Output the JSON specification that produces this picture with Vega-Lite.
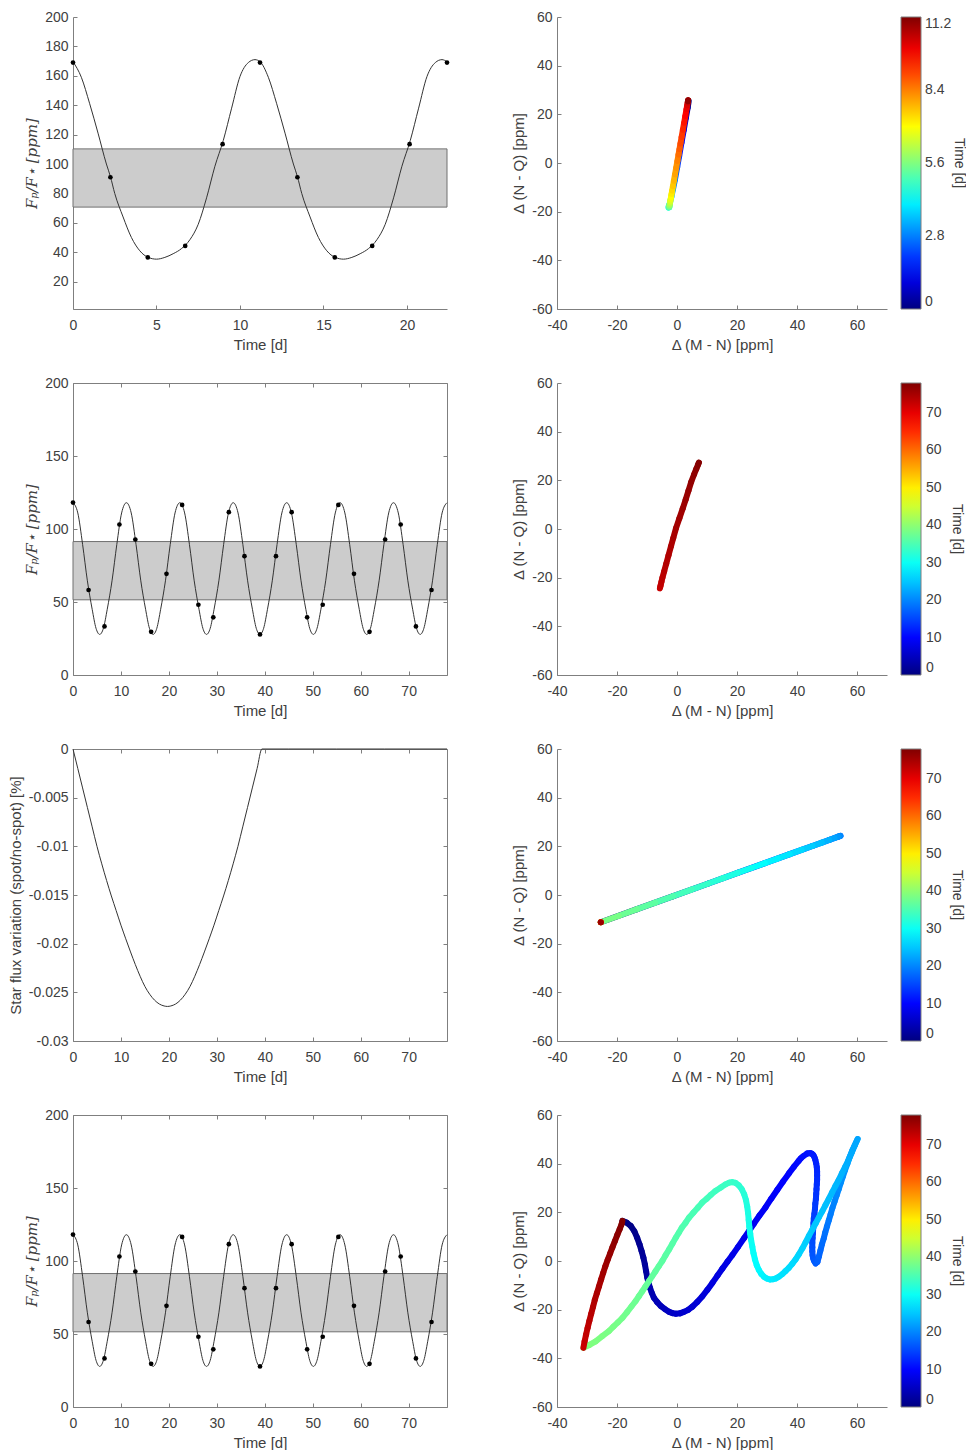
{
"$schema":"https://vega.github.io/schema/vega-lite/v6.json",
"background":"white",
"padding":{"left":8,"top":10,"right":0,"bottom":0},
"config":{
 "font":"Liberation Sans",
 "view":{"stroke":null},
 "axis":{"domainColor":"#7f7f7f","tickColor":"#7f7f7f","tickSize":-4,"tickWidth":1,"domainWidth":1,"labelFont":"Liberation Sans","labelFontSize":14,"labelColor":"#404040","titleFont":"Liberation Sans","titleFontSize":15,"titleFontWeight":"normal","titleColor":"#404040","grid":false,"labelFlush":false,"labelOverlap":false,"titlePadding":5},
 "legend":{"labelFont":"Liberation Sans","labelFontSize":14,"labelColor":"#404040","titleFont":"Liberation Sans","titleFontSize":14,"titleFontWeight":"normal","titleColor":"#404040"}
},
"datasets":{
 "band1":[{"x0":0,"x1":22.4,"y0":70.7,"y1":110.3}],
 "band2":[{"x0":0,"x1":78,"y0":51.5,"y1":91.4}],
 "l1":[{"t":0,"v":169.6},{"t":0.5,"v":159},{"t":1.0,"v":141},{"t":1.5,"v":121},{"t":2.0,"v":100},{"t":2.24,"v":91.5},{"t":2.5,"v":80},{"t":3.0,"v":64},{"t":3.5,"v":50},{"t":4.0,"v":41},{"t":4.5,"v":36.5},{"t":5.0,"v":35.3},{"t":5.5,"v":36.5},{"t":6.0,"v":39},{"t":6.5,"v":42.5},{"t":7.0,"v":48.5},{"t":7.5,"v":59},{"t":8.0,"v":77},{"t":8.5,"v":98.5},{"t":9.0,"v":116},{"t":9.5,"v":138},{"t":10.0,"v":159.5},{"t":10.5,"v":169},{"t":10.9,"v":171},{"t":11.2,"v":169.6},{"t":11.7,"v":159},{"t":12.2,"v":141},{"t":12.7,"v":121},{"t":13.2,"v":100},{"t":13.44,"v":91.5},{"t":13.7,"v":80},{"t":14.2,"v":64},{"t":14.7,"v":50},{"t":15.2,"v":41},{"t":15.7,"v":36.5},{"t":16.2,"v":35.3},{"t":16.7,"v":36.5},{"t":17.2,"v":39},{"t":17.7,"v":42.5},{"t":18.2,"v":48.5},{"t":18.7,"v":59},{"t":19.2,"v":77},{"t":19.7,"v":98.5},{"t":20.2,"v":116},{"t":20.7,"v":138},{"t":21.2,"v":159.5},{"t":21.7,"v":169},{"t":22.1,"v":171},{"t":22.4,"v":169.6}],
 "dots1":[{"t":0,"v":169},{"t":2.24,"v":91},{"t":4.48,"v":36.5},{"t":6.72,"v":44.3},{"t":8.96,"v":113.5},{"t":11.2,"v":169},{"t":13.44,"v":91},{"t":15.68,"v":36.5},{"t":17.92,"v":44.3},{"t":20.16,"v":113.5},{"t":22.4,"v":169}],
 "l2":[{"t":0,"v":118},{"t":1,"v":111},{"t":2,"v":89.5},{"t":3,"v":64.5},{"t":4,"v":45},{"t":4.8,"v":32},{"t":5.57,"v":27.8},{"t":6.34,"v":32},{"t":7.14,"v":45},{"t":8.14,"v":64.5},{"t":9.14,"v":89.5},{"t":10.14,"v":111},
  {"t":11.14,"v":118},{"t":12.14,"v":111},{"t":13.14,"v":89.5},{"t":14.14,"v":64.5},{"t":15.14,"v":45},{"t":15.94,"v":32},{"t":16.71,"v":27.8},{"t":17.48,"v":32},{"t":18.28,"v":45},{"t":19.28,"v":64.5},{"t":20.28,"v":89.5},{"t":21.28,"v":111},
  {"t":22.28,"v":118},{"t":23.28,"v":111},{"t":24.28,"v":89.5},{"t":25.28,"v":64.5},{"t":26.28,"v":45},{"t":27.08,"v":32},{"t":27.85,"v":27.8},{"t":28.62,"v":32},{"t":29.42,"v":45},{"t":30.42,"v":64.5},{"t":31.42,"v":89.5},{"t":32.42,"v":111},
  {"t":33.42,"v":118},{"t":34.42,"v":111},{"t":35.42,"v":89.5},{"t":36.42,"v":64.5},{"t":37.42,"v":45},{"t":38.22,"v":32},{"t":38.99,"v":27.8},{"t":39.76,"v":32},{"t":40.56,"v":45},{"t":41.56,"v":64.5},{"t":42.56,"v":89.5},{"t":43.56,"v":111},
  {"t":44.56,"v":118},{"t":45.56,"v":111},{"t":46.56,"v":89.5},{"t":47.56,"v":64.5},{"t":48.56,"v":45},{"t":49.36,"v":32},{"t":50.13,"v":27.8},{"t":50.9,"v":32},{"t":51.7,"v":45},{"t":52.7,"v":64.5},{"t":53.7,"v":89.5},{"t":54.7,"v":111},
  {"t":55.7,"v":118},{"t":56.7,"v":111},{"t":57.7,"v":89.5},{"t":58.7,"v":64.5},{"t":59.7,"v":45},{"t":60.5,"v":32},{"t":61.27,"v":27.8},{"t":62.04,"v":32},{"t":62.84,"v":45},{"t":63.84,"v":64.5},{"t":64.84,"v":89.5},{"t":65.84,"v":111},
  {"t":66.84,"v":118},{"t":67.84,"v":111},{"t":68.84,"v":89.5},{"t":69.84,"v":64.5},{"t":70.84,"v":45},{"t":71.64,"v":32},{"t":72.41,"v":27.8},{"t":73.18,"v":32},{"t":73.98,"v":45},{"t":74.98,"v":64.5},{"t":75.98,"v":89.5},{"t":76.98,"v":111},{"t":78,"v":118}],
 "dots2":[{"t":0,"v":118.1},{"t":3.25,"v":58.2},{"t":6.57,"v":33.3},{"t":9.68,"v":103.1},{"t":13.0,"v":92.8},{"t":16.3,"v":29.6},{"t":19.5,"v":69.3},{"t":22.76,"v":116.5},{"t":26.15,"v":48.1},{"t":29.26,"v":39.5},{"t":32.5,"v":111.5},{"t":35.76,"v":81.4},{"t":39.0,"v":27.8},{"t":42.33,"v":81.4},{"t":45.6,"v":111.5},{"t":48.83,"v":39.5},{"t":52.08,"v":48.1},{"t":55.34,"v":116.5},{"t":58.6,"v":69.3},{"t":61.84,"v":29.6},{"t":65.1,"v":92.8},{"t":68.34,"v":103.1},{"t":71.52,"v":33.3},{"t":74.77,"v":58.2}],
 "l3":[{"t":0,"v":0},{"t":1,"v":-0.002},{"t":2,"v":-0.004},{"t":3,"v":-0.006},{"t":4,"v":-0.008},{"t":5,"v":-0.01},{"t":6,"v":-0.0118},{"t":7,"v":-0.0135},{"t":8,"v":-0.0151},{"t":9,"v":-0.0166},{"t":10,"v":-0.0181},{"t":11,"v":-0.0195},{"t":12,"v":-0.02085},{"t":13,"v":-0.02215},{"t":14,"v":-0.02335},{"t":15,"v":-0.0244},{"t":16,"v":-0.0252},{"t":17,"v":-0.0258},{"t":18,"v":-0.0262},{"t":19,"v":-0.0264},{"t":19.7,"v":-0.02645},{"t":20.4,"v":-0.0264},{"t":21.4,"v":-0.0262},{"t":22.4,"v":-0.0258},{"t":23.4,"v":-0.0252},{"t":24.4,"v":-0.0244},{"t":25.4,"v":-0.02335},{"t":26.4,"v":-0.02215},{"t":27.4,"v":-0.02085},{"t":28.4,"v":-0.0195},{"t":29.4,"v":-0.0181},{"t":30.4,"v":-0.0166},{"t":31.4,"v":-0.0151},{"t":32.4,"v":-0.0135},{"t":33.4,"v":-0.0118},{"t":34.4,"v":-0.01},{"t":35.4,"v":-0.008},{"t":36.4,"v":-0.006},{"t":37.4,"v":-0.004},{"t":38.4,"v":-0.002},{"t":39.4,"v":0},{"t":45,"v":0},{"t":55,"v":0},{"t":65,"v":0},{"t":78,"v":0}],
 "r1":[{"t":0,"x":3.9,"y":25.4},{"t":0.4,"x":3.56,"y":22.7},{"t":0.8,"x":2.95,"y":18.5},{"t":1.2,"x":2.24,"y":13.5},{"t":1.6,"x":1.49,"y":8.3},{"t":2.0,"x":0.71,"y":2.8},{"t":2.4,"x":0.06,"y":-1.7},{"t":2.8,"x":-0.67,"y":-6.8},{"t":3.2,"x":-1.33,"y":-10.7},{"t":3.6,"x":-1.9,"y":-14.0},{"t":4.0,"x":-2.34,"y":-16.4},{"t":4.4,"x":-2.7,"y":-17.5},{"t":4.8,"x":-2.8,"y":-18.3},
  {"t":5.0,"x":-2.6,"y":-18.2},{"t":5.2,"x":-2.59,"y":-18.11},{"t":5.4,"x":-2.56,"y":-17.89},{"t":5.6,"x":-2.52,"y":-17.67},{"t":5.8,"x":-2.49,"y":-17.41},{"t":6.0,"x":-2.43,"y":-17.01},{"t":6.2,"x":-2.36,"y":-16.53},{"t":6.4,"x":-2.3,"y":-16.09},{"t":6.6,"x":-2.22,"y":-15.56},{"t":6.8,"x":-2.11,"y":-14.81},{"t":7.0,"x":-1.99,"y":-13.93},{"t":7.2,"x":-1.81,"y":-12.7},{"t":7.4,"x":-1.62,"y":-11.34},{"t":7.6,"x":-1.36,"y":-9.53},{"t":7.8,"x":-1.04,"y":-7.29},{"t":8.0,"x":-0.67,"y":-4.69},{"t":8.2,"x":-0.27,"y":-1.92},{"t":8.4,"x":0.13,"y":0.85},{"t":8.6,"x":0.5,"y":3.45},{"t":8.8,"x":0.82,"y":5.69},{"t":9.0,"x":1.15,"y":7.98},{"t":9.2,"x":1.54,"y":10.71},{"t":9.4,"x":1.96,"y":13.66},{"t":9.6,"x":2.38,"y":16.56},{"t":9.8,"x":2.77,"y":19.33},{"t":10.0,"x":3.16,"y":22.06},{"t":10.2,"x":3.4,"y":23.69},{"t":10.4,"x":3.56,"y":24.83},{"t":10.6,"x":3.66,"y":25.49},{"t":10.8,"x":3.7,"y":25.8},{"t":11.0,"x":3.68,"y":25.67},{"t":11.2,"x":3.64,"y":25.36}],
 "r2":[{"t":72.41,"x":-5.7,"y":-24.4},{"t":72.69,"x":-5.62,"y":-24.0},{"t":72.97,"x":-5.47,"y":-23.2},{"t":73.25,"x":-5.18,"y":-21.7},{"t":73.53,"x":-4.85,"y":-20.0},{"t":73.81,"x":-4.27,"y":-17.4},{"t":74.09,"x":-3.59,"y":-14.3},{"t":74.37,"x":-2.82,"y":-10.8},{"t":74.65,"x":-2.0,"y":-7.1},{"t":74.93,"x":-1.24,"y":-3.7},{"t":75.21,"x":-0.32,"y":0.36},{"t":75.49,"x":0.8,"y":4.4},{"t":75.77,"x":1.91,"y":8.4},{"t":76.05,"x":2.89,"y":12.1},{"t":76.33,"x":3.83,"y":15.8},{"t":76.61,"x":4.72,"y":19.3},{"t":76.89,"x":5.69,"y":22.4},{"t":77.17,"x":6.44,"y":24.7},{"t":77.45,"x":7.0,"y":26.4},{"t":77.73,"x":7.27,"y":27.2},{"t":78.0,"x":7.3,"y":27.3}],
 "r3":[{"t":0,"x":-25.4,"y":-11.2},{"t":2,"x":-13.32,"y":-5.83},{"t":4,"x":-1.23,"y":-0.46},{"t":6,"x":10.24,"y":4.64},{"t":8,"x":20.21,"y":9.07},{"t":10,"x":29.28,"y":13.09},{"t":12,"x":37.59,"y":16.78},{"t":14,"x":45.14,"y":20.14},{"t":16,"x":50.72,"y":22.62},{"t":18,"x":53.74,"y":23.96},
  {"t":19.7,"x":54.5,"y":24.3},{"t":20.4,"x":54.35,"y":24.23},{"t":21.4,"x":53.74,"y":23.96},{"t":22.4,"x":52.53,"y":23.43},{"t":23.4,"x":50.72,"y":22.62},{"t":24.4,"x":48.31,"y":21.55},{"t":25.4,"x":45.14,"y":20.14},{"t":26.4,"x":41.51,"y":18.53},{"t":27.4,"x":37.59,"y":16.78},{"t":28.4,"x":33.5,"y":14.97},{"t":29.4,"x":29.28,"y":13.09},{"t":30.4,"x":24.75,"y":11.08},{"t":31.4,"x":20.21,"y":9.07},{"t":32.4,"x":15.38,"y":6.92},{"t":33.4,"x":10.24,"y":4.64},{"t":34.4,"x":4.81,"y":2.22},{"t":35.4,"x":-1.23,"y":-0.46},{"t":36.4,"x":-7.28,"y":-3.15},{"t":37.4,"x":-13.32,"y":-5.83},{"t":38.4,"x":-19.36,"y":-8.52},{"t":39.4,"x":-25.4,"y":-11.2},
  {"t":50,"x":-25.4,"y":-11.2},{"t":60,"x":-25.4,"y":-11.2},{"t":70,"x":-25.4,"y":-11.2},{"t":76,"x":-25.4,"y":-11.2},{"t":78,"x":-25.4,"y":-11.2}],
 "r4":[{"t":0,"x":-18.2,"y":16.5},{"t":0.28,"x":-16.8,"y":15.8},{"t":0.56,"x":-15.4,"y":14.4},{"t":0.84,"x":-14.2,"y":12.2},{"t":1.12,"x":-13.3,"y":9.6},{"t":1.4,"x":-12.5,"y":6.9},{"t":1.68,"x":-11.8,"y":4.1},{"t":1.96,"x":-11.2,"y":1.4},{"t":2.24,"x":-10.7,"y":-1.4},{"t":2.52,"x":-10.3,"y":-4.2},{"t":2.8,"x":-9.9,"y":-6.9},{"t":3.08,"x":-9.5,"y":-9.0},{"t":3.36,"x":-9.0,"y":-11.0},{"t":3.64,"x":-8.4,"y":-13.1},{"t":3.92,"x":-7.7,"y":-15.1},{"t":4.2,"x":-6.6,"y":-16.9},{"t":4.48,"x":-5.4,"y":-18.5},{"t":4.76,"x":-4.0,"y":-19.8},{"t":5.04,"x":-2.6,"y":-20.9},{"t":5.32,"x":-1.5,"y":-21.4},
  {"t":5.6,"x":-0.4,"y":-21.7},{"t":5.8,"x":1.0,"y":-21.5},{"t":6.0,"x":2.3,"y":-20.9},{"t":6.2,"x":3.7,"y":-20.1},{"t":6.4,"x":5.1,"y":-18.8},{"t":6.6,"x":6.7,"y":-16.9},{"t":6.8,"x":8.4,"y":-14.6},{"t":7.0,"x":10.1,"y":-11.9},{"t":7.2,"x":11.8,"y":-9.0},{"t":7.4,"x":13.5,"y":-6.0},{"t":7.6,"x":15.1,"y":-3.2},{"t":7.8,"x":16.8,"y":-0.3},{"t":8.0,"x":18.4,"y":2.4},{"t":8.2,"x":20.3,"y":5.7},{"t":8.4,"x":22.3,"y":9.3},{"t":8.6,"x":24.0,"y":12.3},{"t":8.8,"x":25.6,"y":15.3},{"t":9.0,"x":27.5,"y":18.7},{"t":9.2,"x":29.5,"y":22.0},{"t":9.4,"x":31.4,"y":25.6},{"t":9.6,"x":33.4,"y":29.2},{"t":9.8,"x":35.3,"y":32.6},{"t":10.0,"x":37.3,"y":36.0},{"t":10.2,"x":39.0,"y":38.8},{"t":10.4,"x":40.6,"y":41.2},{"t":10.6,"x":41.3,"y":42.2},{"t":10.8,"x":42.0,"y":43.0},{"t":11.0,"x":43.4,"y":44.2},
  {"t":11.2,"x":44.4,"y":44.3},{"t":11.4,"x":44.9,"y":44.1},{"t":11.6,"x":45.4,"y":43.6},{"t":11.8,"x":45.8,"y":42.7},{"t":12.0,"x":46.1,"y":41.6},{"t":12.2,"x":46.4,"y":40.1},{"t":12.4,"x":46.6,"y":38.5},{"t":12.6,"x":46.7,"y":36.8},{"t":12.8,"x":46.7,"y":35.2},{"t":13.0,"x":46.7,"y":33.4},{"t":13.2,"x":46.6,"y":31.5},{"t":13.4,"x":46.5,"y":29.5},{"t":13.6,"x":46.4,"y":27.5},{"t":13.8,"x":46.3,"y":25.5},{"t":14.0,"x":46.1,"y":23.5},{"t":14.2,"x":46.0,"y":21.5},{"t":14.4,"x":45.8,"y":19.5},{"t":14.6,"x":45.6,"y":17.5},{"t":14.8,"x":45.5,"y":15.5},{"t":15.0,"x":45.4,"y":13.4},{"t":15.2,"x":45.3,"y":11.3},{"t":15.4,"x":45.2,"y":9.4},{"t":15.6,"x":45.1,"y":7.5},{"t":15.8,"x":45.1,"y":5.7},{"t":16.0,"x":45.1,"y":4.0},{"t":16.2,"x":45.2,"y":2.4},{"t":16.4,"x":45.4,"y":1.0},{"t":16.6,"x":45.7,"y":0.0},
  {"t":16.8,"x":46.2,"y":-1.0},{"t":17.08,"x":46.8,"y":-0.4},{"t":17.36,"x":47.3,"y":1.8},{"t":17.64,"x":47.8,"y":4.3},{"t":17.92,"x":48.3,"y":6.8},{"t":18.2,"x":48.9,"y":9.2},{"t":18.48,"x":49.4,"y":11.7},{"t":18.76,"x":50.0,"y":14.2},{"t":19.04,"x":50.6,"y":16.7},{"t":19.32,"x":51.2,"y":19.2},{"t":19.6,"x":51.8,"y":21.8},{"t":19.88,"x":52.5,"y":24.3},{"t":20.16,"x":53.2,"y":26.9},{"t":20.44,"x":53.9,"y":29.5},{"t":20.72,"x":54.6,"y":32.1},{"t":21.0,"x":55.3,"y":34.7},{"t":21.28,"x":56.0,"y":37.3},{"t":21.56,"x":56.8,"y":40.0},{"t":21.84,"x":57.6,"y":42.8},{"t":22.12,"x":58.5,"y":45.6},
  {"t":22.4,"x":60.2,"y":50.1},{"t":22.6,"x":59.2,"y":47.3},{"t":22.8,"x":58.2,"y":44.5},{"t":23.0,"x":57.2,"y":41.6},{"t":23.2,"x":56.1,"y":38.8},{"t":23.4,"x":55.0,"y":36.1},{"t":23.6,"x":53.9,"y":33.3},{"t":23.8,"x":52.8,"y":30.8},{"t":24.0,"x":51.7,"y":28.2},{"t":24.2,"x":50.6,"y":25.5},{"t":24.4,"x":49.5,"y":23.0},{"t":24.6,"x":48.4,"y":20.4},{"t":24.8,"x":47.3,"y":17.9},{"t":25.0,"x":46.2,"y":15.4},{"t":25.2,"x":45.1,"y":12.9},{"t":25.4,"x":44.0,"y":10.4},{"t":25.6,"x":42.9,"y":7.8},{"t":25.8,"x":41.8,"y":5.2},{"t":26.0,"x":40.6,"y":2.7},{"t":26.2,"x":39.5,"y":0.6},{"t":26.4,"x":38.4,"y":-1.2},{"t":26.6,"x":37.3,"y":-2.8},{"t":26.8,"x":36.2,"y":-4.1},{"t":27.0,"x":35.1,"y":-5.4},{"t":27.2,"x":34.0,"y":-6.4},{"t":27.4,"x":33.0,"y":-7.1},{"t":27.6,"x":32.0,"y":-7.5},{"t":27.8,"x":31.0,"y":-7.6},
  {"t":28.0,"x":30.0,"y":-7.2},{"t":28.28,"x":29.0,"y":-6.5},{"t":28.56,"x":28.1,"y":-5.3},{"t":28.84,"x":27.3,"y":-3.7},{"t":29.12,"x":26.6,"y":-1.8},{"t":29.4,"x":26.0,"y":0.6},{"t":29.68,"x":25.5,"y":3.2},{"t":29.96,"x":25.1,"y":5.9},{"t":30.24,"x":24.7,"y":8.6},{"t":30.52,"x":24.4,"y":11.3},{"t":30.8,"x":24.1,"y":14.1},{"t":31.08,"x":23.9,"y":16.9},{"t":31.36,"x":23.7,"y":19.7},{"t":31.64,"x":23.4,"y":22.4},{"t":31.92,"x":23.0,"y":25.0},{"t":32.2,"x":22.4,"y":27.4},{"t":32.48,"x":21.6,"y":29.5},{"t":32.76,"x":20.6,"y":31.1},{"t":33.04,"x":19.5,"y":32.1},{"t":33.32,"x":18.5,"y":32.4},
  {"t":33.6,"x":17.4,"y":32.2},{"t":33.76,"x":16.2,"y":31.5},{"t":33.92,"x":14.6,"y":30.2},{"t":34.08,"x":12.8,"y":28.8},{"t":34.24,"x":11.3,"y":27.2},{"t":34.4,"x":9.9,"y":25.6},{"t":34.56,"x":8.4,"y":24.0},{"t":34.72,"x":7.0,"y":22.0},{"t":34.88,"x":5.5,"y":19.9},{"t":35.04,"x":4.0,"y":17.8},{"t":35.2,"x":2.8,"y":15.6},{"t":35.36,"x":1.6,"y":13.7},{"t":35.52,"x":0.6,"y":11.6},{"t":35.68,"x":-0.4,"y":9.6},{"t":35.84,"x":-1.5,"y":7.2},{"t":36.0,"x":-2.6,"y":4.8},{"t":36.16,"x":-3.8,"y":2.4},{"t":36.32,"x":-4.9,"y":0.0},{"t":36.48,"x":-6.1,"y":-2.2},{"t":36.64,"x":-7.2,"y":-4.3},{"t":36.8,"x":-8.3,"y":-6.3},{"t":36.96,"x":-9.3,"y":-8.2},{"t":37.12,"x":-10.5,"y":-10.4},{"t":37.28,"x":-11.6,"y":-12.5},{"t":37.44,"x":-12.7,"y":-14.5},{"t":37.6,"x":-13.8,"y":-16.5},{"t":37.76,"x":-15.2,"y":-18.7},{"t":37.92,"x":-16.7,"y":-21.1},{"t":38.08,"x":-18.2,"y":-23.4},{"t":38.24,"x":-19.7,"y":-25.2},{"t":38.4,"x":-21.2,"y":-27.0},{"t":38.56,"x":-22.7,"y":-28.8},{"t":38.72,"x":-24.9,"y":-30.9},{"t":38.88,"x":-27.1,"y":-33.0},{"t":39.04,"x":-29.2,"y":-34.5},
  {"t":72.41,"x":-31.2,"y":-35.7},{"t":72.69,"x":-30.8,"y":-33.0},{"t":72.97,"x":-30.3,"y":-30.2},{"t":73.25,"x":-29.8,"y":-27.5},{"t":73.53,"x":-29.2,"y":-24.6},{"t":73.81,"x":-28.6,"y":-21.7},{"t":74.09,"x":-28.0,"y":-18.9},{"t":74.37,"x":-27.4,"y":-16.0},{"t":74.65,"x":-26.7,"y":-13.2},{"t":74.93,"x":-26.0,"y":-10.4},{"t":75.21,"x":-25.3,"y":-7.6},{"t":75.49,"x":-24.6,"y":-4.9},{"t":75.77,"x":-23.9,"y":-2.2},{"t":76.05,"x":-23.1,"y":0.5},{"t":76.33,"x":-22.3,"y":3.1},{"t":76.61,"x":-21.5,"y":5.7},{"t":76.89,"x":-20.7,"y":8.2},{"t":77.17,"x":-19.9,"y":10.7},{"t":77.45,"x":-19.1,"y":13.1},{"t":77.73,"x":-18.5,"y":15.0},{"t":78.0,"x":-18.2,"y":16.5}]
},
"columns":2,
"spacing":{"row":24,"column":61},
"align":"each",
"resolve":{"scale":{"x":"independent","y":"independent","color":"independent"},"legend":{"color":"independent"}},
"concat":[
 {"width":374,"height":292,
  "resolve":{"axis":{"x":"independent","y":"independent"}},
  "layer":[
   {"data":{"name":"band1"},"mark":{"type":"rect","fill":"#cccccc","stroke":"#707070","strokeWidth":1},
    "encoding":{"x":{"field":"x0","type":"quantitative","scale":{"domain":[0,22.4],"nice":false,"zero":false},"axis":null},
     "x2":{"field":"x1"},
     "y":{"field":"y0","type":"quantitative","scale":{"domain":[1.4,200],"nice":false,"zero":false},"axis":null},
     "y2":{"field":"y1"}}},
   {"data":{"name":"l1"},"mark":{"type":"line","color":"#333333","strokeWidth":1,"interpolate":"monotone"},
    "encoding":{"x":{"field":"t","type":"quantitative","title":"Time [d]","scale":{"domain":[0,22.4],"nice":false,"zero":false},"axis":{"values":[0,5,10,15,20],"labelExpr":"toString(datum.value)","labelPadding":13}},
     "y":{"field":"v","type":"quantitative","title":"Fₚ/F⋆ [ppm]","scale":{"domain":[1.4,200],"nice":false,"zero":false},"axis":{"values":[20,40,60,80,100,120,140,160,180,200],"tickCount":10,"labelExpr":"toString(datum.value)","labelPadding":9,"labelOverlap":false,"labelSeparation":0,"titleFont":"DejaVu Serif","titleFontStyle":"italic"}}}},
   {"data":{"name":"dots1"},"mark":{"type":"point","filled":true,"color":"#000000","size":22,"opacity":1},
    "encoding":{"x":{"field":"t","type":"quantitative","scale":{"domain":[0,22.4],"nice":false,"zero":false},"axis":null},
     "y":{"field":"v","type":"quantitative","scale":{"domain":[1.4,200],"nice":false,"zero":false},"axis":null}}}
  ]},
 {"width":330,"height":292,"data":{"name":"r1"},
  "transform":[{"window":[{"op":"lead","field":"x","as":"x2"},{"op":"lead","field":"y","as":"y2"}],"sort":[{"field":"t"}]},{"filter":"isValid(datum.x2)"}],
  "mark":{"type":"rule","strokeWidth":6,"strokeCap":"round"},
  "encoding":{
   "x":{"field":"x","type":"quantitative","scale":{"domain":[-40,70],"nice":false,"zero":false},"axis":{"values":[-40,-20,0,20,40,60],"title":"Δ (M - N) [ppm]","labelExpr":"toString(datum.value)","labelPadding":13}},
   "y":{"field":"y","type":"quantitative","scale":{"domain":[-60,60],"nice":false,"zero":false},"axis":{"values":[-60,-40,-20,0,20,40,60],"title":"Δ (N - Q) [ppm]","labelExpr":"toString(datum.value)","labelPadding":9}},
   "x2":{"field":"x2"},"y2":{"field":"y2"},
   "color":{"field":"t","type":"quantitative","scale":{"domain":[0,1.4,4.2,7,9.8,11.2],"range":["#000080","#0000ff","#00ffff","#ffff00","#ff0000","#800000"],"interpolate":"rgb"},
    "legend":{"type":"gradient","title":"Time [d]","values":[0,2.8,5.6,8.4,11.2],"labelExpr":"toString(datum.value)","gradientLength":292,"gradientThickness":20,"offset":14,"titleOrient":"right","titleAnchor":"middle","titlePadding":1,"gradientStrokeColor":"#7f7f7f","gradientStrokeWidth":1,"labelOffset":4,"labelBaseline":"middle","direction":"vertical"}}}},
 {"width":374,"height":292,
  "resolve":{"axis":{"x":"independent","y":"independent"}},
  "layer":[
   {"data":{"name":"band2"},"mark":{"type":"rect","fill":"#cccccc","stroke":"#707070","strokeWidth":1},
    "encoding":{"x":{"field":"x0","type":"quantitative","scale":{"domain":[0,78],"nice":false,"zero":false},"axis":{"orient":"top","values":[0,10,20,30,40,50,60,70],"labels":false,"title":null}},
     "x2":{"field":"x1"},
     "y":{"field":"y0","type":"quantitative","scale":{"domain":[0,200],"nice":false,"zero":false},"axis":{"orient":"right","values":[0,50,100,150,200],"labels":false,"title":null}},
     "y2":{"field":"y1"}}},
   {"data":{"name":"l2"},"mark":{"type":"line","color":"#333333","strokeWidth":1,"interpolate":"monotone"},
    "encoding":{"x":{"field":"t","type":"quantitative","title":"Time [d]","scale":{"domain":[0,78],"nice":false,"zero":false},"axis":{"values":[0,10,20,30,40,50,60,70],"labelExpr":"toString(datum.value)","labelPadding":13}},
     "y":{"field":"v","type":"quantitative","title":"Fₚ/F⋆ [ppm]","scale":{"domain":[0,200],"nice":false,"zero":false},"axis":{"values":[0,50,100,150,200],"labelExpr":"toString(datum.value)","labelPadding":9,"titleFont":"DejaVu Serif","titleFontStyle":"italic"}}}},
   {"data":{"name":"dots2"},"mark":{"type":"point","filled":true,"color":"#000000","size":22,"opacity":1},
    "encoding":{"x":{"field":"t","type":"quantitative","scale":{"domain":[0,78],"nice":false,"zero":false},"axis":null},
     "y":{"field":"v","type":"quantitative","scale":{"domain":[0,200],"nice":false,"zero":false},"axis":null}}}
  ]},
 {"width":330,"height":292,"data":{"name":"r2"},
  "transform":[{"window":[{"op":"lead","field":"x","as":"x2"},{"op":"lead","field":"y","as":"y2"}],"sort":[{"field":"t"}]},{"filter":"isValid(datum.x2)"}],
  "mark":{"type":"rule","strokeWidth":6,"strokeCap":"round"},
  "encoding":{
   "x":{"field":"x","type":"quantitative","scale":{"domain":[-40,70],"nice":false,"zero":false},"axis":{"values":[-40,-20,0,20,40,60],"title":"Δ (M - N) [ppm]","labelExpr":"toString(datum.value)","labelPadding":13}},
   "y":{"field":"y","type":"quantitative","scale":{"domain":[-60,60],"nice":false,"zero":false},"axis":{"values":[-60,-40,-20,0,20,40,60],"title":"Δ (N - Q) [ppm]","labelExpr":"toString(datum.value)","labelPadding":9}},
   "x2":{"field":"x2"},"y2":{"field":"y2"},
   "color":{"field":"t","type":"quantitative","scale":{"domain":[0,9.75,29.25,48.75,68.25,78],"range":["#000080","#0000ff","#00ffff","#ffff00","#ff0000","#800000"],"interpolate":"rgb"},
    "legend":{"type":"gradient","title":"Time [d]","values":[0,10,20,30,40,50,60,70],"labelExpr":"toString(datum.value)","gradientLength":292,"gradientThickness":20,"offset":14,"titleOrient":"right","titleAnchor":"middle","titlePadding":8,"gradientStrokeColor":"#7f7f7f","gradientStrokeWidth":1,"labelOffset":5,"labelBaseline":"middle","direction":"vertical"}}}},
 {"width":374,"height":292,
  "resolve":{"axis":{"x":"independent","y":"independent"}},
  "layer":[
   {"data":{"name":"l3"},"mark":{"type":"line","opacity":0},
    "encoding":{"x":{"field":"t","type":"quantitative","scale":{"domain":[0,78],"nice":false,"zero":false},"axis":{"orient":"top","values":[0,10,20,30,40,50,60,70],"labels":false,"title":null}},
     "y":{"field":"v","type":"quantitative","scale":{"domain":[-0.03,0],"nice":false,"zero":false},"axis":{"orient":"right","values":[-0.03,-0.025,-0.02,-0.015,-0.01,-0.005,0],"labels":false,"title":null}}}},
   {"data":{"name":"l3"},"mark":{"type":"line","color":"#333333","strokeWidth":1,"interpolate":"monotone"},
    "encoding":{"x":{"field":"t","type":"quantitative","title":"Time [d]","scale":{"domain":[0,78],"nice":false,"zero":false},"axis":{"values":[0,10,20,30,40,50,60,70],"labelExpr":"toString(datum.value)","labelPadding":13}},
     "y":{"field":"v","type":"quantitative","title":"Star flux variation (spot/no-spot) [%]","scale":{"domain":[-0.03,0],"nice":false,"zero":false},"axis":{"values":[-0.03,-0.025,-0.02,-0.015,-0.01,-0.005,0],"labelExpr":"toString(datum.value)","labelPadding":9}}}}
  ]},
 {"width":330,"height":292,"data":{"name":"r3"},
  "transform":[{"window":[{"op":"lead","field":"x","as":"x2"},{"op":"lead","field":"y","as":"y2"}],"sort":[{"field":"t"}]},{"filter":"isValid(datum.x2)"}],
  "mark":{"type":"rule","strokeWidth":6,"strokeCap":"round"},
  "encoding":{
   "x":{"field":"x","type":"quantitative","scale":{"domain":[-40,70],"nice":false,"zero":false},"axis":{"values":[-40,-20,0,20,40,60],"title":"Δ (M - N) [ppm]","labelExpr":"toString(datum.value)","labelPadding":13}},
   "y":{"field":"y","type":"quantitative","scale":{"domain":[-60,60],"nice":false,"zero":false},"axis":{"values":[-60,-40,-20,0,20,40,60],"title":"Δ (N - Q) [ppm]","labelExpr":"toString(datum.value)","labelPadding":9}},
   "x2":{"field":"x2"},"y2":{"field":"y2"},
   "color":{"field":"t","type":"quantitative","scale":{"domain":[0,9.75,29.25,48.75,68.25,78],"range":["#000080","#0000ff","#00ffff","#ffff00","#ff0000","#800000"],"interpolate":"rgb"},
    "legend":{"type":"gradient","title":"Time [d]","values":[0,10,20,30,40,50,60,70],"labelExpr":"toString(datum.value)","gradientLength":292,"gradientThickness":20,"offset":14,"titleOrient":"right","titleAnchor":"middle","titlePadding":8,"gradientStrokeColor":"#7f7f7f","gradientStrokeWidth":1,"labelOffset":5,"labelBaseline":"middle","direction":"vertical"}}}},
 {"width":374,"height":292,
  "resolve":{"axis":{"x":"independent","y":"independent"}},
  "layer":[
   {"data":{"name":"band2"},"mark":{"type":"rect","fill":"#cccccc","stroke":"#707070","strokeWidth":1},
    "encoding":{"x":{"field":"x0","type":"quantitative","scale":{"domain":[0,78],"nice":false,"zero":false},"axis":{"orient":"top","values":[0,10,20,30,40,50,60,70],"labels":false,"title":null}},
     "x2":{"field":"x1"},
     "y":{"field":"y0","type":"quantitative","scale":{"domain":[0,200],"nice":false,"zero":false},"axis":{"orient":"right","values":[0,50,100,150,200],"labels":false,"title":null}},
     "y2":{"field":"y1"}}},
   {"data":{"name":"l2"},"mark":{"type":"line","color":"#333333","strokeWidth":1,"interpolate":"monotone"},
    "encoding":{"x":{"field":"t","type":"quantitative","title":"Time [d]","scale":{"domain":[0,78],"nice":false,"zero":false},"axis":{"values":[0,10,20,30,40,50,60,70],"labelExpr":"toString(datum.value)","labelPadding":13}},
     "y":{"field":"v","type":"quantitative","title":"Fₚ/F⋆ [ppm]","scale":{"domain":[0,200],"nice":false,"zero":false},"axis":{"values":[0,50,100,150,200],"labelExpr":"toString(datum.value)","labelPadding":9,"titleFont":"DejaVu Serif","titleFontStyle":"italic"}}}},
   {"data":{"name":"dots2"},"mark":{"type":"point","filled":true,"color":"#000000","size":22,"opacity":1},
    "encoding":{"x":{"field":"t","type":"quantitative","scale":{"domain":[0,78],"nice":false,"zero":false},"axis":null},
     "y":{"field":"v","type":"quantitative","scale":{"domain":[0,200],"nice":false,"zero":false},"axis":null}}}
  ]},
 {"width":330,"height":292,"data":{"name":"r4"},
  "transform":[{"window":[{"op":"lead","field":"x","as":"x2"},{"op":"lead","field":"y","as":"y2"}],"sort":[{"field":"t"}]},{"filter":"isValid(datum.x2)"}],
  "mark":{"type":"rule","strokeWidth":6,"strokeCap":"round"},
  "encoding":{
   "x":{"field":"x","type":"quantitative","scale":{"domain":[-40,70],"nice":false,"zero":false},"axis":{"values":[-40,-20,0,20,40,60],"title":"Δ (M - N) [ppm]","labelExpr":"toString(datum.value)","labelPadding":13}},
   "y":{"field":"y","type":"quantitative","scale":{"domain":[-60,60],"nice":false,"zero":false},"axis":{"values":[-60,-40,-20,0,20,40,60],"title":"Δ (N - Q) [ppm]","labelExpr":"toString(datum.value)","labelPadding":9}},
   "x2":{"field":"x2"},"y2":{"field":"y2"},
   "color":{"field":"t","type":"quantitative","scale":{"domain":[0,9.75,29.25,48.75,68.25,78],"range":["#000080","#0000ff","#00ffff","#ffff00","#ff0000","#800000"],"interpolate":"rgb"},
    "legend":{"type":"gradient","title":"Time [d]","values":[0,10,20,30,40,50,60,70],"labelExpr":"toString(datum.value)","gradientLength":292,"gradientThickness":20,"offset":14,"titleOrient":"right","titleAnchor":"middle","titlePadding":8,"gradientStrokeColor":"#7f7f7f","gradientStrokeWidth":1,"labelOffset":5,"labelBaseline":"middle","direction":"vertical"}}}}
]
}
